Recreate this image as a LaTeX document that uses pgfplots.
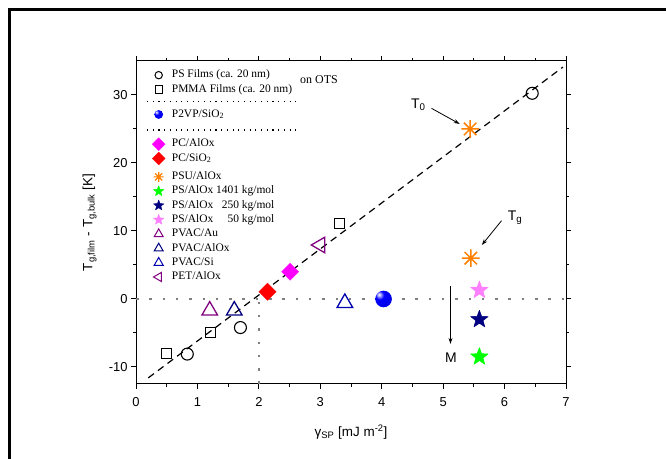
\documentclass[border=0pt]{standalone}
\usepackage{fontspec}
\setmainfont{Liberation Serif}
\newfontfamily\arial{Liberation Sans}
\usepackage{pgfplots}
\pgfplotsset{compat=1.18}
\usetikzlibrary{plotmarks,arrows.meta}

\definecolor{psu}{RGB}{255,128,0}
\definecolor{pcmag}{RGB}{255,0,255}
\definecolor{starpink}{RGB}{255,128,255}
\definecolor{stargreen}{RGB}{0,255,0}
\definecolor{navyb}{RGB}{0,0,128}
\definecolor{royal}{RGB}{0,0,175}
\definecolor{purp}{RGB}{128,0,128}
\definecolor{dotgray}{RGB}{128,128,128}

% eight-armed asterisk (plus and cross combined)
\pgfdeclareplotmark{ast8}{%
  \pgfpathmoveto{\pgfqpoint{-\pgfplotmarksize}{0pt}}%
  \pgfpathlineto{\pgfqpoint{\pgfplotmarksize}{0pt}}%
  \pgfpathmoveto{\pgfqpoint{0pt}{-\pgfplotmarksize}}%
  \pgfpathlineto{\pgfqpoint{0pt}{\pgfplotmarksize}}%
  \pgfpathmoveto{\pgfqpoint{-.7071\pgfplotmarksize}{-.7071\pgfplotmarksize}}%
  \pgfpathlineto{\pgfqpoint{.7071\pgfplotmarksize}{.7071\pgfplotmarksize}}%
  \pgfpathmoveto{\pgfqpoint{-.7071\pgfplotmarksize}{.7071\pgfplotmarksize}}%
  \pgfpathlineto{\pgfqpoint{.7071\pgfplotmarksize}{-.7071\pgfplotmarksize}}%
  \pgfusepathqstroke}

% filled five-pointed star
\pgfdeclareplotmark{star5}{%
  \pgfpathmoveto{\pgfqpointpolar{90}{\pgfplotmarksize}}%
  \pgfpathlineto{\pgfqpointpolar{126}{.42\pgfplotmarksize}}%
  \pgfpathlineto{\pgfqpointpolar{162}{\pgfplotmarksize}}%
  \pgfpathlineto{\pgfqpointpolar{198}{.42\pgfplotmarksize}}%
  \pgfpathlineto{\pgfqpointpolar{234}{\pgfplotmarksize}}%
  \pgfpathlineto{\pgfqpointpolar{270}{.42\pgfplotmarksize}}%
  \pgfpathlineto{\pgfqpointpolar{306}{\pgfplotmarksize}}%
  \pgfpathlineto{\pgfqpointpolar{342}{.42\pgfplotmarksize}}%
  \pgfpathlineto{\pgfqpointpolar{18}{\pgfplotmarksize}}%
  \pgfpathlineto{\pgfqpointpolar{54}{.42\pgfplotmarksize}}%
  \pgfpathclose
  \pgfusepathqfillstroke}

% glossy blue sphere
\pgfdeclareradialshading{blueball}{\pgfpoint{-14bp}{14bp}}{%
  color(0bp)=(white); color(5bp)=(blue!35!white); color(13bp)=(blue);
  color(30bp)=(blue!92!black); color(50bp)=(blue!70!black); color(80bp)=(blue!55!black)}
\pgfdeclareplotmark{bball}{%
  \pgfpathcircle{\pgfpointorigin}{\pgfplotmarksize}%
  \pgfshadepath{blueball}{0}%
  \pgfusepath{discard}}

\begin{document}
\begin{tikzpicture}[x=1bp,y=1bp]
\useasboundingbox (0,0) rectangle (666,459);
\draw[line width=2.8bp] (9.4,-3) -- (9.4,449.6) -- (670,449.6);
\begin{axis}[
  at={(136bp,75bp)}, anchor=south west,
  scale only axis, width=430bp, height=323bp,
  xmin=0, xmax=7, ymin=-12.5, ymax=35,
  xtick={0,1,...,7}, ytick={-10,0,10,20,30},
  minor x tick num=1, minor y tick num=1,
  xtick pos=both, ytick pos=both,
  xticklabel pos=lower, yticklabel pos=left,
  tick align=outside,
  major tick length=5bp, minor tick length=3bp,
  every tick/.style={black, line width=1bp},
  axis line style={black, line width=1bp},
  /pgf/number format/assume math mode=true,
  tick label style={font=\arial\fontsize{13}{13}\selectfont},
  xticklabel style={yshift=-5bp},
  label style={font=\arial\fontsize{13.5}{14}\selectfont},
  xlabel={γ\textsubscript{SP} [mJ m\textsuperscript{-2}]},
  ylabel={T\textsubscript{g,film} - T\textsubscript{g,bulk} [K]},
  xlabel style={at={(axis description cs:0.5,-0.149)}, anchor=center},
  ylabel style={at={(axis description cs:-0.108,0.5)}, anchor=center},
  clip=false,
  legend image code/.code={%
    \pgfpathrectangle{\pgfqpoint{-6.5bp}{-5bp}}{\pgfqpoint{13bp}{10bp}}%
    \pgfusepath{discard}%
    \draw[#1] plot coordinates {(0pt,0pt)};},
  legend cell align=left,
  legend style={at={(0.0372,0.9788)}, anchor=north west,
    draw=none, fill=none, inner sep=0pt, row sep=0pt, column sep=6.7bp,
    font=\fontsize{11.5}{13}\selectfont,
    nodes={inner sep=0pt, text height=9.8bp, text depth=4.5bp}},
]

% guide lines
\addplot[forget plot, black, line width=1.2bp, dash pattern=on 7bp off 5bp]
  coordinates {(0.2,-11.6) (6.95,34.1)};
\addplot[forget plot, dotgray, line width=2.5bp, dash pattern=on 2.5bp off 10.8bp]
  coordinates {(0,0) (7,0)};
\addplot[forget plot, dotgray, line width=2.5bp, dash pattern=on 2.5bp off 10.8bp]
  coordinates {(2,-12.5) (2,0)};
% separators inside the legend block
\addplot[forget plot, black, line width=1.1bp, dash pattern=on 1.1bp off 4.6bp]
  coordinates {(0.18,29.07) (2.62,29.07)};
\addplot[forget plot, black, line width=1.1bp, dash pattern=on 1.1bp off 4.6bp]
  coordinates {(0.18,24.85) (2.62,24.85)};

% measured data
\addplot[forget plot, only marks, black, mark=o, mark size=6bp, line width=1.1bp]
  coordinates {(0.835,-8.1) (1.70,-4.2) (6.45,30.25)};
\addplot[forget plot, only marks, black, mark=square, mark size=5bp, line width=1.1bp]
  coordinates {(0.50,-8.0) (1.216,-4.95) (3.31,11.1)};
\addplot[forget plot, only marks, mark=bball, mark size=8.3bp]
  coordinates {(4.03,0)};
\addplot[forget plot, only marks, pcmag, mark=square*, mark options={rotate=45}, mark size=6bp]
  coordinates {(2.51,4.0)};
\addplot[forget plot, only marks, red, mark=square*, mark options={rotate=45}, mark size=6.1bp]
  coordinates {(2.14,1.07)};
\addplot[forget plot, only marks, psu, mark=ast8, mark size=8.8bp, line width=1.5bp]
  coordinates {(5.44,25.0) (5.45,6.0)};
\addplot[forget plot, only marks, stargreen, mark=star5, mark size=9.2bp, line width=0.5bp, line join=round]
  coordinates {(5.59,-8.5)};
\addplot[forget plot, only marks, navyb, mark=star5, mark size=9.2bp, line width=0.5bp, line join=round]
  coordinates {(5.59,-3.0)};
\addplot[forget plot, only marks, starpink, mark=star5, mark size=9.2bp, line width=0.5bp, line join=round]
  coordinates {(5.59,1.3)};
\addplot[forget plot, only marks, purp, mark=triangle, mark size=9bp, line width=1.3bp]
  coordinates {(1.20,-1.7)};
\addplot[forget plot, only marks, navyb, mark=triangle, mark size=9bp, line width=1.3bp]
  coordinates {(1.60,-1.7)};
\addplot[forget plot, only marks, royal, mark=triangle, mark size=9bp, line width=1.3bp]
  coordinates {(3.40,-0.58)};
\addplot[forget plot, only marks, purp, mark=triangle, mark options={rotate=90}, mark size=9bp, line width=1.3bp]
  coordinates {(3.00,7.94)};

% legend
\addlegendimage{black, mark=o, mark size=3.7bp, line width=1bp}
\addlegendentry{PS Films (ca. 20 nm)}
\addlegendimage{black, mark=square, mark size=3.6bp, line width=1bp}
\addlegendentry{PMMA Films (ca. 20 nm)}
\addlegendimage{empty legend}
\addlegendentry[text height=10.7bp, text depth=0pt]{}
\addlegendimage{mark=bball, mark size=4.4bp}
\addlegendentry{P2VP/SiO\textsubscript{2}}
\addlegendimage{empty legend}
\addlegendentry[text height=15.4bp, text depth=0pt]{}
\addlegendimage{pcmag, mark=square*, mark options={rotate=45}, mark size=4.5bp}
\addlegendentry{PC/AlOx}
\addlegendimage{red, mark=square*, mark options={rotate=45}, mark size=4.5bp}
\addlegendentry{PC/SiO\textsubscript{2}}
\addlegendimage{empty legend}
\addlegendentry[text height=4.1bp, text depth=0pt]{}
\addlegendimage{psu, mark=ast8, mark size=5bp, line width=1.2bp}
\addlegendentry{PSU/AlOx}
\addlegendimage{stargreen, mark=star5, mark size=5.5bp, line width=0.4bp, line join=round}
\addlegendentry{PS/AlOx 1401 kg/mol}
\addlegendimage{navyb, mark=star5, mark size=5.5bp, line width=0.4bp, line join=round}
\addlegendentry{PS/AlOx \hphantom{1}250 kg/mol}
\addlegendimage{starpink, mark=star5, mark size=5.5bp, line width=0.4bp, line join=round}
\addlegendentry{PS/AlOx \hphantom{14}50 kg/mol}
\addlegendimage{purp, mark=triangle, mark size=5.2bp, line width=1bp}
\addlegendentry{PVAC/Au}
\addlegendimage{navyb, mark=triangle, mark size=5.2bp, line width=1bp}
\addlegendentry{PVAC/AlOx}
\addlegendimage{royal, mark=triangle, mark size=5.2bp, line width=1bp}
\addlegendentry{PVAC/Si}
\addlegendimage{purp, mark=triangle, mark options={rotate=90}, mark size=5.2bp, line width=1bp}
\addlegendentry{PET/AlOx}

% annotations
\node[anchor=west, inner sep=0pt, font=\fontsize{12}{13}\selectfont] at (axis cs:2.67,32.2) {on OTS};
\node[anchor=base west, inner sep=0pt, font=\arial\fontsize{14}{15}\selectfont] at (axis cs:4.477,28.04) {T\textsubscript{0}};
\draw[line width=0.8bp, -{Stealth[length=6bp,width=4bp]}] (axis cs:4.81,28.04) -- (axis cs:5.27,25.74);
\node[anchor=base west, inner sep=0pt, font=\arial\fontsize{14}{15}\selectfont] at (axis cs:6.05,11.51) {T\textsubscript{g}};
\draw[line width=0.8bp, -{Stealth[length=6bp,width=4bp]}] (axis cs:5.95,11.51) -- (axis cs:5.63,7.94);
\node[anchor=base, inner sep=0pt, font=\arial\fontsize{14}{15}\selectfont] at (axis cs:5.125,-9.31) {M};
\draw[line width=0.8bp, -{Stealth[length=6bp,width=4bp]}] (axis cs:5.12,1.91) -- (axis cs:5.12,-6.6);
\end{axis}
\end{tikzpicture}
\end{document}
